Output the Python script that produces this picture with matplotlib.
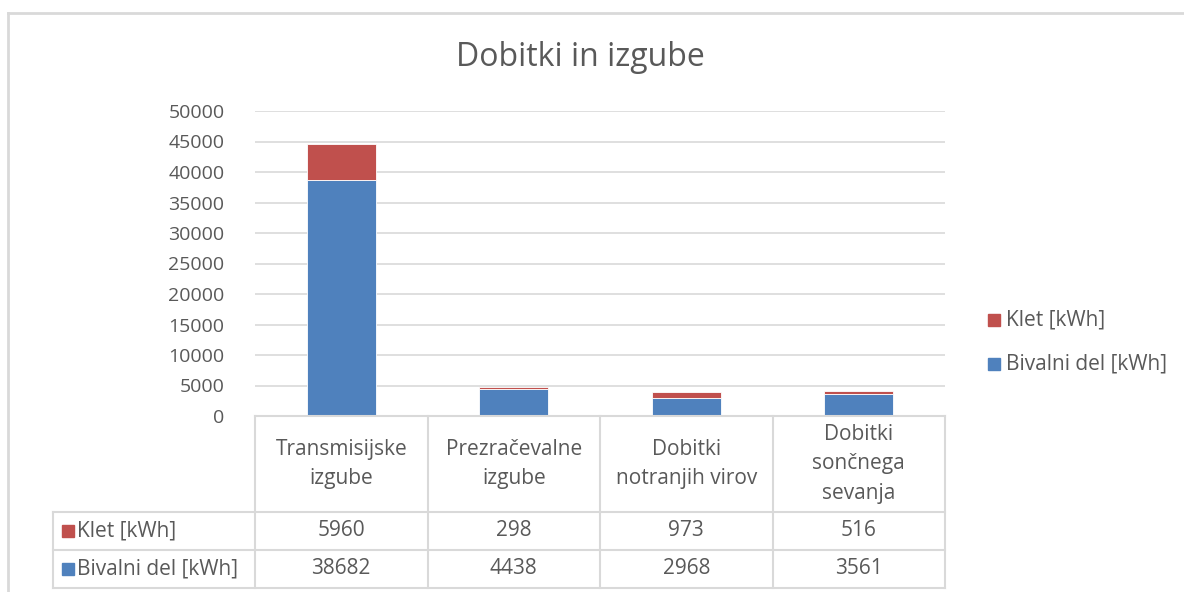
import matplotlib
matplotlib.use("Agg")
import matplotlib.pyplot as plt
from matplotlib.lines import Line2D
from matplotlib.patches import Rectangle

# podatki
kategorije = ["Transmisijske\nizgube", "Prezračevalne\nizgube", "Dobitki\nnotranjih virov", "Dobitki\nsončnega\nsevanja"]
bivalni = [38682, 4438, 2968, 3561]
klet = [5960, 298, 973, 516]
serije = ["Bivalni del [kWh]", "Klet [kWh]"]
barve = ["#4f81bd", "#c0504d"]
y_ticks = [0, 5000, 10000, 15000, 20000, 25000, 30000, 35000, 40000, 45000, 50000]

plt.rcParams["font.family"] = ["Open Sans", "DejaVu Sans"]
siva = "#595959"
crta = "#d9d9d9"
fs = 15

W, H = 1184, 592
fig = plt.figure(figsize=(W / 100, H / 100), dpi=100)

def fx(px):
    return px / W

def fy(py):
    return 1 - py / H

# okvir grafa
fig.add_artist(Line2D([fx(8), 1], [fy(13), fy(13)], color=crta, lw=2))
fig.add_artist(Line2D([fx(8), fx(8)], [fy(13), 0], color=crta, lw=2))

x0, x1, y0, y1 = 255, 945, 416, 111
ax = fig.add_axes([fx(x0), fy(y0), fx(x1) - fx(x0), fy(y1) - fy(y0)])
x = range(len(kategorije))
ax.bar(x, bivalni, width=0.4, color=barve[0], edgecolor="white", linewidth=0.6, zorder=3)
ax.bar(x, klet, bottom=bivalni, width=0.4, color=barve[1], edgecolor="white", linewidth=0.6, zorder=3)
ax.set_xlim(-0.5, len(kategorije) - 0.5)
ax.set_ylim(0, 50000)
ax.set_yticks(y_ticks)
ax.set_yticklabels([str(v) for v in y_ticks], fontsize=14, color=siva)
ax.tick_params(axis="y", length=0, pad=22)
ax.set_xticks([])
ax.grid(axis="y", color=crta, lw=1.2, zorder=0)
for s in ax.spines.values():
    s.set_visible(False)

fig.text(fx(580), fy(57), "Dobitki in izgube", ha="center", va="center",
         fontsize=23, color=siva)

# tabela s podatki
stolpci = [x0 + i * (x1 - x0) / len(kategorije) for i in range(len(kategorije) + 1)]
vrstice = [416, 512, 550, 588]
lw = 1.5
fig.add_artist(Line2D([fx(x0), fx(x1)], [fy(416), fy(416)], color=crta, lw=lw))
for py in vrstice[1:]:
    fig.add_artist(Line2D([fx(53), fx(x1)], [fy(py), fy(py)], color=crta, lw=lw))
for px in stolpci:
    fig.add_artist(Line2D([fx(px), fx(px)], [fy(416), fy(588)], color=crta, lw=lw))
fig.add_artist(Line2D([fx(53), fx(53)], [fy(512), fy(588)], color=crta, lw=lw))

for i, k in enumerate(kategorije):
    cx = 0.5 * (stolpci[i] + stolpci[i + 1])
    fig.text(fx(cx), fy(464), k, ha="center", va="center", fontsize=fs, color=siva, linespacing=1.5)
    fig.text(fx(cx), fy(531), str(klet[i]), ha="center", va="center", fontsize=fs, color=siva)
    fig.text(fx(cx), fy(569), str(bivalni[i]), ha="center", va="center", fontsize=fs, color=siva)

for py, ime, b in [(531, serije[1], barve[1]), (569, serije[0], barve[0])]:
    fig.add_artist(Rectangle((fx(62), fy(py + 6)), fx(12), 12 / H, color=b))
    fig.text(fx(77), fy(py), ime, ha="left", va="center", fontsize=fs, color=siva)

# legenda
for py, ime, b in [(320, serije[1], barve[1]), (364, serije[0], barve[0])]:
    fig.add_artist(Rectangle((fx(988), fy(py + 6)), fx(12), 12 / H, color=b))
    fig.text(fx(1006), fy(py), ime, ha="left", va="center", fontsize=fs, color=siva)

fig.savefig("out.png", dpi=100)
